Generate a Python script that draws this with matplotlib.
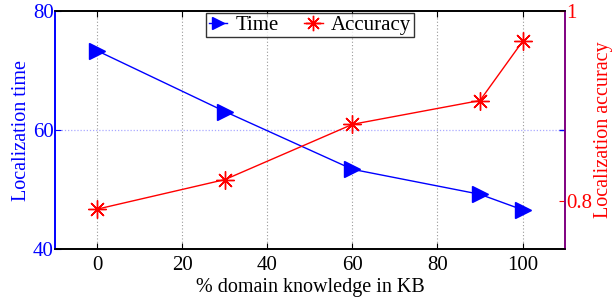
import matplotlib
matplotlib.use("Agg")
import matplotlib.pyplot as plt

pct_kb = [0, 30, 60, 90, 100]
loc_time = [73.3, 63.1, 53.4, 49.2, 46.6]
loc_acc = [0.792, 0.823, 0.881, 0.906, 0.968]
x_ticks = [0, 20, 40, 60, 80, 100]
time_ticks = [40, 60, 80]
acc_ticks = [0.8, 1.0]
acc_ticklabels = ["0.8", "1"]

plt.rcParams['font.family'] = ['Liberation Serif', 'DejaVu Serif']
plt.rcParams['mathtext.fontset'] = 'stix'
FS = 15

fig = plt.figure(figsize=(6.13, 3.03), dpi=100)
ax = fig.add_axes([0.0897, 0.178, 0.832, 0.7857])
ax2 = ax.twinx()

blue = '#0000ff'
red = '#ff0000'

# grid
for xv in x_ticks:
    ax.axvline(xv, color='#999999', linestyle=(0, (1, 2)), linewidth=0.8, zorder=0)
ax.axhline(60, color='#aaaaff', linestyle=(0, (1, 1.5)), linewidth=0.9, zorder=0)

l1, = ax.plot(pct_kb, loc_time, color=blue, marker='>', markersize=11,
              linewidth=1.0, label='Time', zorder=3)
l2, = ax2.plot(pct_kb, loc_acc, color=red, marker=(8, 2, 0), markersize=13,
               markeredgewidth=1.0, linewidth=1.0, label='Accuracy', zorder=3)

ax.set_xlim(-10, 110)
ax.set_ylim(40, 80)
ax2.set_ylim(0.75, 1.0)

ax.set_xticks(x_ticks)
ax.set_yticks(time_ticks)
ax2.set_yticks(acc_ticks)
ax2.set_yticklabels(acc_ticklabels)

ax.tick_params(axis='x', direction='in', top=True, labelsize=FS, colors='black', length=4, pad=5)
ax.tick_params(axis='y', direction='in', right=False, labelsize=FS, colors=blue, length=4, pad=1)
ax2.tick_params(axis='y', direction='in', labelsize=FS, colors=red, length=4, pad=1)

# mirrored left tick on right side
ax2.plot([110], [0.75 + (60 - 40) / 40 * 0.25], marker=0, markersize=4, color=blue,
         clip_on=False, markeredgewidth=1.0)

ax.set_xlabel('% domain knowledge in KB', fontsize=14.5, labelpad=2)
ax.set_ylabel('Localization time', fontsize=14.5, color=blue, labelpad=1)
ax2.set_ylabel('Localization accuracy', fontsize=14.5, color=red, labelpad=1)

for a in (ax, ax2):
    a.spines['top'].set_color('black')
    a.spines['bottom'].set_color('black')
ax2.spines['left'].set_color(blue)
ax.spines['left'].set_color(blue)
ax2.spines['right'].set_color('#800080')
ax.spines['right'].set_color('#800080')
for a in (ax, ax2):
    for s in a.spines.values():
        s.set_linewidth(1.2)

leg = ax2.legend([l1, l2], ['Time', 'Accuracy'], loc='upper center', ncol=2,
                 bbox_to_anchor=(0.5, 0.992), fontsize=FS, frameon=True, fancybox=False,
                 edgecolor='black', borderpad=0.12, handlelength=0.9, handletextpad=0.4,
                 columnspacing=1.2, borderaxespad=0.0, markerscale=0.85)
leg.get_frame().set_linewidth(1.0)
leg.set_zorder(10)

fig.savefig('out.png', dpi=100)
